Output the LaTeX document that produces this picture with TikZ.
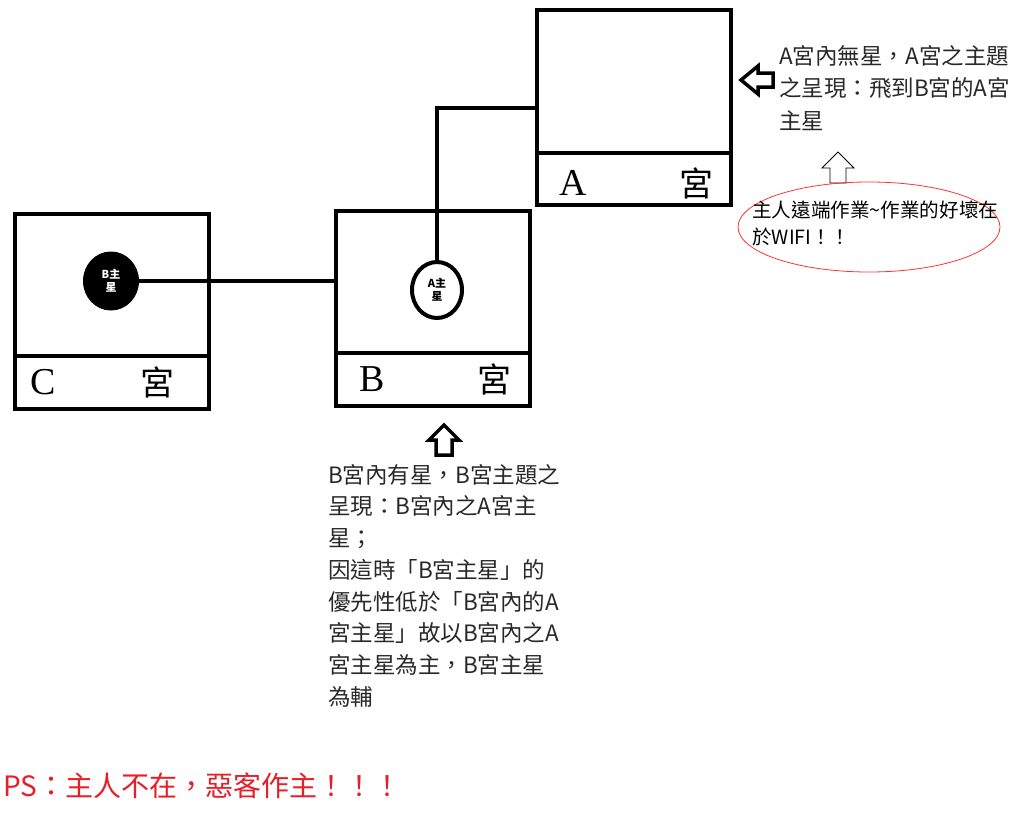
\documentclass[tikz,border=0pt]{standalone}
\usepackage{fontspec}
\setmainfont{Liberation Serif}
\newfontfamily\cjk{Noto Sans CJK TC}
\usetikzlibrary{calc,shapes.geometric}
\definecolor{psred}{RGB}{230,30,40}
\definecolor{txt}{RGB}{40,40,40}
\tikzset{
  palace/.style={draw, line width=4pt, inner sep=0pt, minimum width=194pt, minimum height=195pt},
  conn/.style={line width=4pt},
  divider/.style={line width=4pt},
  plabel/.style={font=\fontsize{38}{38}\selectfont, inner sep=0pt, anchor=center},
  pgong/.style={font=\cjk\fontsize{34}{34}\selectfont, inner sep=0pt, anchor=center},
  note/.style={font=\cjk\fontsize{22.5}{32.5}\selectfont, text=txt, align=left, anchor=north west, inner sep=0pt},
  blockarrow/.style={draw, line width=3.5pt, line join=miter, fill=white},
  thinarrow/.style={draw, line width=0.8pt, fill=white},
}
\begin{document}
\begin{tikzpicture}[x=1pt,y=-1pt]
\useasboundingbox (0,0) rectangle (1024,816);
% palaces
\node[palace] (abox) at (634,107.5) {};
\node[palace] (bbox) at (433,308.5) {};
\node[palace] (cbox) at (111.5,311) {};
\draw[divider] (abox.west |- 0,153) coordinate (adl) -- (abox.east |- 0,153) coordinate (adr);
\draw[divider] (bbox.west |- 0,353) coordinate (bdl) -- (bbox.east |- 0,353) coordinate (bdr);
\draw[divider] (cbox.west |- 0,356) coordinate (cdl) -- (cbox.east |- 0,356) coordinate (cdr);
\node[plabel] (alet) at (573,183) {A};
\node[pgong] (agong) at (696,183) {宮};
\node[plabel] (blet) at (372,379) {B};
\node[pgong] (bgong) at (494,379) {宮};
\node[plabel] (clet) at (43,382) {C};
\node[pgong] (cgong) at (157,382) {宮};
% stars
\node[draw, fill=black, ellipse, line width=1pt, minimum width=55pt, minimum height=58pt, inner sep=0pt,
      text=white, align=center, font=\cjk\bfseries\fontsize{11}{13}\selectfont] (bstar) at (111,281) {B主\\星};
\node[draw, fill=white, ellipse, line width=4pt, minimum width=50pt, minimum height=56pt, inner sep=0pt,
      align=center, font=\cjk\bfseries\fontsize{11}{13}\selectfont] (astar) at (437,290) {A主\\星};
\draw[conn] (bstar.east) -- (bstar.east -| bbox.west);
\draw[conn] (astar.north) |- (abox.west);
% arrows
\coordinate (la) at (741,80);
\draw[blockarrow] (la) -- ++(17,-14) -- ++(0,7) -- ++(15,0) -- ++(0,14) -- ++(-15,0) -- ++(0,7) -- cycle;
\coordinate (ua) at (444,425);
\draw[blockarrow] (ua) -- ++(15,15) -- ++(-7,0) -- ++(0,15) -- ++(-16,0) -- ++(0,-15) -- ++(-7,0) -- cycle;
\coordinate (ta) at (838,152);
\draw[thinarrow] (ta) -- ++(16,16) -- ++(-8,0) -- ++(0,15) -- ++(-16,0) -- ++(0,-15) -- ++(-8,0) -- cycle;
% ellipse
\node[draw=red!80!white, line width=0.8pt, ellipse, minimum width=262pt, minimum height=90pt] (oval) at (869,227) {};
\node[note, font=\cjk\fontsize{19.6}{27}\selectfont, text=black] (ovaltext) at (752,201) {主人遠端作業\char"7E作業的好壞在\\於WIFI！！};
% notes
\node[note] (anote) at (779,45) {A宮內無星，A宮之主題\\之呈現：飛到B宮的A宮\\主星};
\node[note, font=\cjk\fontsize{22.5}{31.7}\selectfont] (bnote) at (328,464) {B宮內有星，B宮主題之\\呈現：B宮內之A宮主\\星；\\因這時「B宮主星」的\\優先性低於「B宮內的A\\宮主星」故以B宮內之A\\宮主星為主，B宮主星\\為輔};
\node[anchor=west, inner sep=0pt, text=psred, font=\cjk\fontsize{28}{28}\selectfont] (ps) at (3,786) {PS：主人不在，惡客作主！！！};
\end{tikzpicture}
\end{document}
